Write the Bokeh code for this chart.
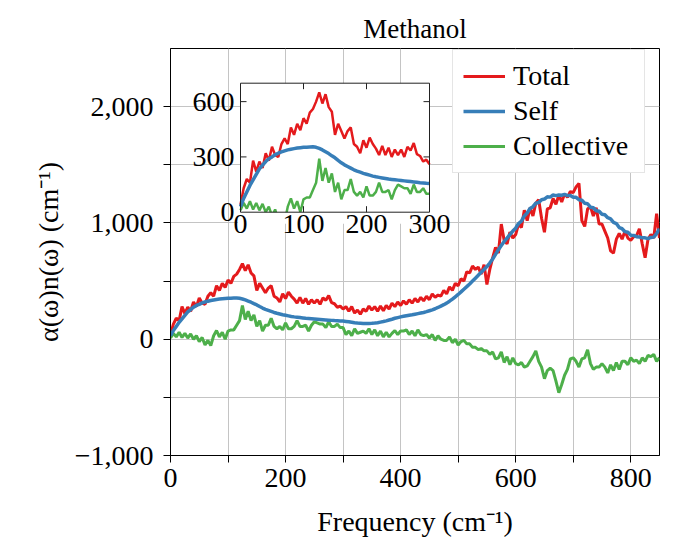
import math
from bokeh.plotting import figure
from bokeh.models import Range1d, FixedTicker, Legend, LegendItem
from bokeh.core.properties import value
from bokeh.embed import file_html
from bokeh.resources import INLINE

# ---------------- data ----------------
freq = list(range(0, 855, 5))

total = [
    40, 130, 180, 160, 280, 220, 275, 240, 320, 280,          # 0-45
    355, 310, 300, 370, 400, 370, 460, 420, 480, 445,         # 50-95
    510, 480, 540, 560, 600, 650, 590, 640, 570, 545,         # 100-145
    420, 480, 440, 400, 440, 460, 370, 355, 320, 390,         # 150-195
    350, 405, 370, 345, 310, 360, 310, 350, 300, 340,         # 200-245
    310, 340, 300, 355, 335, 375, 315, 305, 275, 285,         # 250-295
    260, 280, 240, 280, 225, 250, 215, 260, 240, 285,         # 300-345
    250, 280, 240, 285, 245, 290, 260, 310, 280, 320,         # 350-395
    290, 330, 300, 340, 310, 350, 320, 360, 330, 370,         # 400-445
    340, 390, 360, 380, 370, 420, 390, 450, 420, 480,         # 450-495
    460, 520, 500, 580, 570, 630, 600, 620, 560, 640,         # 500-545
    470, 600, 700, 790, 740, 990, 850, 820, 920, 870,         # 550-595
    900, 990, 960, 1110, 1020, 1130, 1060, 1170, 1200, 1040,  # 600-645
    920, 1120, 1130, 1210, 1160, 1240, 1180, 1250, 1220, 1270,# 650-695
    1260, 1310, 1340, 1020, 970, 1120, 1140, 1060, 1130, 990, # 700-745
    990, 930, 870, 760, 740, 860, 910, 860, 930, 870,         # 750-795
    850, 880, 890, 950, 820, 700, 860, 900, 870, 1080,        # 800-845
    870,                                                      # 850
]

self_part = [
    30, 75, 110, 145, 175, 205, 235, 255, 275, 290,
    300, 312, 320, 327, 333, 338, 342, 345, 348, 350,
    352, 353, 354, 355, 352, 346, 338, 328, 318, 306,
    295, 281, 268, 257, 248, 239, 230, 223, 217, 211,
    206, 201, 196, 192, 189, 186, 183, 180, 178, 176,
    174, 172, 170, 168, 166, 164, 162, 160, 159, 157,
    156, 153, 150, 146, 142, 139, 137, 135, 135, 136,
    137, 139, 142, 147, 152, 158, 165, 172, 180, 186,
    192, 197, 202, 206, 210, 215, 220, 225, 230, 237,
    245, 253, 262, 273, 285, 297, 310, 327, 345, 365,
    385, 407, 430, 452, 475, 500, 525, 550, 575, 600,
    625, 655, 690, 730, 770, 805, 840, 870, 900, 930,
    955, 995, 1015, 1060, 1085, 1125, 1140, 1170, 1175, 1200,
    1205, 1225, 1222, 1240, 1235, 1240, 1238, 1245, 1235, 1235,
    1220, 1220, 1200, 1195, 1170, 1165, 1135, 1130, 1105, 1100,
    1075, 1070, 1045, 1035, 1005, 995, 960, 950, 925, 920,
    895, 893, 882, 880, 872, 872, 865, 875, 878, 908,
    950,
]

collective = [
    10, 50, 20, 60, 15, 50, 10, 45, 0, 30,
    -20, 15, -50, -10, -55, 30, 75, 20, 60, 0,
    70, 80, 80, 120, 160, 290, 170, 240, 160, 210,
    110, 160, 70, 120, 120, 180, 110, 90, 110, 80,
    140, 90, 90, 110, 160, 110, 110, 120, 70, 120,
    150, 140, 130, 130, 100, 150, 110, 110, 130, 100,
    100, 40, 70, 30, 90, 50, 60, 70, 50, 90,
    40, 80, 30, 70, 20, 60, 20, 50, 75, 40,
    70, 70, 80, 40, 70, 30, 80, 40, 30, 40,
    10, 40, -10, 30, 0, -10, -10, 20, -30, 0,
    -50, -20, -10, -40, -40, -70, -70, -90, -80, -100,
    -100, -130, -110, -170, -160, -110, -200, -150, -220, -160,
    -210, -220, -200, -240, -230, -190, -150, -100, -190, -240,
    -340, -270, -250, -270, -360, -460, -390, -310, -260, -170,
    -160, -190, -240, -170, -160, -90, -210, -260, -240, -240,
    -210, -240, -290, -220, -270, -200, -260, -190, -190, -220,
    -160, -190, -180, -210, -160, -190, -140, -150, -130, -190,
    -160,
]

series_names = ["Total", "Self", "Collective"]
colors = ["#e41a1c", "#377eb8", "#4daf4a"]

x_major = [0, 200, 400, 600, 800]
x_minor = [100, 300, 500, 700]
y_major = [-1000, 0, 1000, 2000]
y_minor = [-500, 500, 1500]
y_labels = {-1000: "\u22121,000", 0: "0", 1000: "1,000", 2000: "2,000"}

inset_xticks = [0, 100, 200, 300]
inset_yticks = [0, 300, 600]
inset_xmax = 300
inset_ymax = 700

FONT = "Liberation Serif"
FS = "28px"

# ---------------- figure ----------------
p = figure(width=675, height=546, x_range=Range1d(0, 850), y_range=Range1d(-1000, 2500),
           output_backend="svg", toolbar_location=None,
           min_border_left=170, min_border_right=16, min_border_top=48, min_border_bottom=91)

p.title.text = "Methanol"
p.title.align = "center"
p.title.text_font = FONT
p.title.text_font_size = "27px"
p.title.text_font_style = "normal"
p.title.text_color = "black"

p.xaxis.ticker = FixedTicker(ticks=x_major, minor_ticks=x_minor)
p.yaxis.ticker = FixedTicker(ticks=y_major, minor_ticks=y_minor)
p.xgrid.ticker = FixedTicker(ticks=x_major, minor_ticks=x_minor)
p.ygrid.ticker = FixedTicker(ticks=y_major, minor_ticks=y_minor)
p.yaxis.major_label_overrides = y_labels
for g in (p.xgrid, p.ygrid):
    g.grid_line_color = "#c4c4c4"
    g.minor_grid_line_color = "#c4c4c4"
    g.grid_line_width = 1

for ax in (p.xaxis, p.yaxis):
    ax.axis_line_color = "black"
    ax.major_tick_line_color = "black"
    ax.minor_tick_line_color = "black"
    ax.major_tick_in = 0
    ax.major_tick_out = 7
    ax.minor_tick_in = 0
    ax.minor_tick_out = 7
    ax.major_label_text_font = FONT
    ax.major_label_text_font_size = FS
    ax.major_label_text_color = "black"
    ax.axis_label_text_font = FONT
    ax.axis_label_text_font_size = FS
    ax.axis_label_text_font_style = "normal"
    ax.axis_label_text_color = "black"

p.xaxis.axis_label = "Frequency (cm\u207b\u00b9)"
p.yaxis.axis_label = "\u03b1(\u03c9)n(\u03c9) (cm\u207b\u00b9)"
p.xaxis.major_label_standoff = 6
p.yaxis.major_label_standoff = 10
p.xaxis.axis_label_standoff = 16
p.yaxis.axis_label_standoff = 8

p.outline_line_color = "black"
p.outline_line_width = 1

# ---------------- main curves ----------------
r_tot = p.line(freq, total, line_color=colors[0], line_width=3)
r_col = p.line(freq, collective, line_color=colors[2], line_width=3)
r_self = p.line(freq, self_part, line_color=colors[1], line_width=3.5)

# ---------------- inset (drawn with its own ranges inside the frame) ----------------
frame_w, frame_h = 489.0, 407.0
in_left, in_w = 70.0, 189.0        # px from frame left, px width
in_bottom, in_h = 243.3, 129.0     # px from frame bottom, px height
ix0 = -in_left / in_w * inset_xmax
ix1 = inset_xmax + (frame_w - in_left - in_w) / in_w * inset_xmax
iy0 = -in_bottom / in_h * inset_ymax
iy1 = inset_ymax + (frame_h - in_bottom - in_h) / in_h * inset_ymax
p.extra_x_ranges = {"ix": Range1d(ix0, ix1)}
p.extra_y_ranges = {"iy": Range1d(iy0, iy1)}
kw = dict(x_range_name="ix", y_range_name="iy")

p.quad(left=[inset_xticks[0]], right=[inset_xmax], bottom=[inset_yticks[0]], top=[inset_ymax],
       fill_color="white", line_color=None, **kw)

n_in = freq.index(inset_xmax) + 1
p.line(freq[:n_in], total[:n_in], line_color=colors[0], line_width=2.5, **kw)
p.line(freq[:n_in], collective[:n_in], line_color=colors[2], line_width=2.5, **kw)
p.line(freq[:n_in], self_part[:n_in], line_color=colors[1], line_width=3.5, **kw)

# mask of what falls under the inset's lower edge
p.quad(left=[-4], right=[inset_xmax + 4], bottom=[-62], top=[0],
       fill_color="white", line_color=None, **kw)

# inset frame
p.quad(left=[0], right=[inset_xmax], bottom=[0], top=[inset_ymax],
       fill_color=None, line_color="#222222", line_width=1, **kw)

# inset ticks (inward)
xt_in = inset_xticks[1:-1]
yt_in = inset_yticks[1:]
p.ray(x=xt_in, y=[inset_ymax] * len(xt_in), length=6, length_units="screen",
      angle=-math.pi / 2, line_color="#222222", line_width=1, **kw)
p.ray(x=xt_in, y=[0] * len(xt_in), length=6, length_units="screen",
      angle=math.pi / 2, line_color="#222222", line_width=1, **kw)
p.ray(x=[0] * len(yt_in), y=yt_in, length=6, length_units="screen",
      angle=0, line_color="#222222", line_width=1, **kw)
p.ray(x=[inset_xmax] * len(yt_in), y=yt_in, length=6, length_units="screen",
      angle=math.pi, line_color="#222222", line_width=1, **kw)

# inset tick labels
p.text(x=inset_xticks, y=[0] * len(inset_xticks), text=[str(v) for v in inset_xticks],
       text_align="center", text_baseline="top", y_offset=3,
       text_font=value(FONT), text_font_size=value(FS), text_color="black", **kw)
p.text(x=[0] * len(inset_yticks), y=inset_yticks, text=[str(v) for v in inset_yticks],
       text_align="right", text_baseline="middle", x_offset=-6,
       text_font=value(FONT), text_font_size=value(FS), text_color="black", **kw)

# ---------------- legend ----------------
legend = Legend(items=[LegendItem(label=series_names[0], renderers=[r_tot]),
                       LegendItem(label=series_names[1], renderers=[r_self]),
                       LegendItem(label=series_names[2], renderers=[r_col])],
                location=(282, 282))
legend.label_text_font = FONT
legend.label_text_font_size = FS
legend.label_text_color = "black"
legend.glyph_width = 42
legend.glyph_height = 32
legend.label_height = 32
legend.label_width = 121
legend.label_standoff = 8
legend.spacing = 3
legend.padding = 10
legend.margin = 0
legend.border_line_color = "#cccccc"
legend.border_line_width = 1
legend.background_fill_alpha = 1
p.add_layout(legend)

open("out.html", "w").write(file_html(p, INLINE))
